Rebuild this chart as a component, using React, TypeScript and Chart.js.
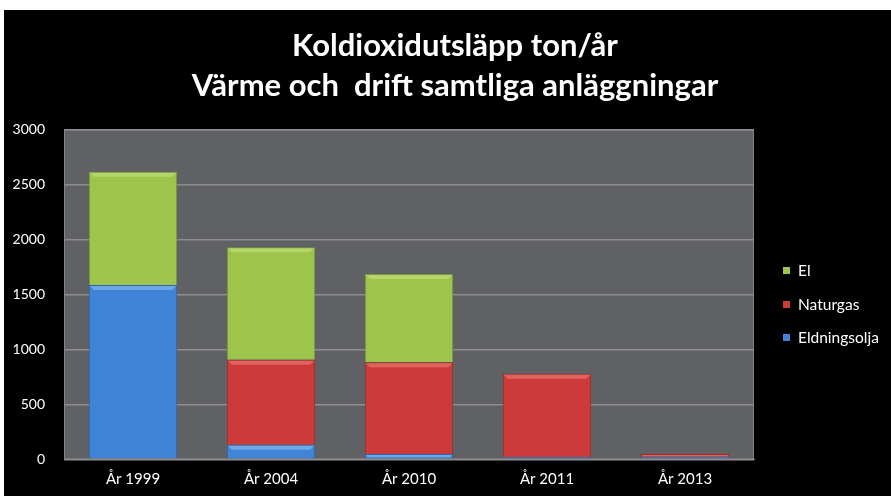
import React, { useEffect, useRef } from "react";
import { Chart, registerables } from "chart.js";

Chart.register(...registerables);

const categories = ["År 1999", "År 2004", "År 2010", "År 2011", "År 2013"];
const eldningsolja = [1585, 132, 48, 22, 24];
const naturgas = [0, 772, 834, 755, 24];
const el = [1030, 1024, 803, 0, 0];
const titleLines = ["Koldioxidutsläpp ton/år", "Värme och  drift samtliga anläggningar"];
const yMax = 3000;
const yStep = 500;

const FONT = "Lato, 'Open Sans', sans-serif";
const highlights = ["#7fb3ee", "#e8706c", "#bcdc72"];

const plotBg = {
  id: "plotBg",
  beforeDraw(chart: any) {
    const { ctx, chartArea } = chart;
    if (!chartArea) return;
    ctx.save();
    ctx.fillStyle = "#606165";
    ctx.fillRect(chartArea.left, chartArea.top, chartArea.right - chartArea.left, chartArea.bottom - chartArea.top);
    ctx.strokeStyle = "#858587";
    ctx.lineWidth = 1;
    ctx.strokeRect(chartArea.left + 0.5, chartArea.top + 0.5, chartArea.right - chartArea.left - 1, chartArea.bottom - chartArea.top - 1);
    ctx.restore();
  },
};

const bevel = {
  id: "bevel",
  afterDatasetsDraw(chart: any) {
    const { ctx } = chart;
    ctx.save();
    chart.data.datasets.forEach((d: any, di: number) => {
      const meta = chart.getDatasetMeta(di);
      meta.data.forEach((bar: any) => {
        const h = bar.base - bar.y;
        if (h < 2) return;
        const left = bar.x - bar.width / 2 + 1;
        const right = bar.x + bar.width / 2 - 1;
        const bh = Math.min(4, h / 2);
        ctx.globalAlpha = 0.75;
        ctx.fillStyle = highlights[di];
        ctx.beginPath();
        ctx.moveTo(left, bar.y + 1);
        ctx.lineTo(right, bar.y + 1);
        ctx.lineTo(right - bh, bar.y + 1 + bh);
        ctx.lineTo(left + bh, bar.y + 1 + bh);
        ctx.closePath();
        ctx.fill();
      });
    });
    ctx.restore();
  },
};

const titleDraw = {
  id: "titleDraw",
  afterDraw(chart: any) {
    const { ctx } = chart;
    ctx.save();
    ctx.font = "bold 31px " + FONT;
    ctx.fillStyle = "#ffffff";
    ctx.textAlign = "center";
    ctx.textBaseline = "alphabetic";
    const cx = 451;
    titleLines.forEach((t, i) => ctx.fillText(t, cx, 46 + i * 40));
    ctx.restore();
  },
};

const sideLegend = {
  id: "sideLegend",
  afterDraw(chart: any) {
    const { ctx } = chart;
    const ds = chart.data.datasets;
    const rows = [260, 294, 327];
    ctx.save();
    ctx.font = "15.5px " + FONT;
    ctx.textBaseline = "middle";
    ctx.textAlign = "left";
    for (let i = 0; i < ds.length; i++) {
      const d = ds[ds.length - 1 - i];
      const y = rows[i];
      ctx.fillStyle = d.backgroundColor;
      ctx.fillRect(779, y - 3, 7, 7);
      ctx.fillStyle = "#ffffff";
      ctx.fillText(d.label, 794, y + 1);
    }
    ctx.restore();
  },
};

export default function App() {
  const ref = useRef<HTMLCanvasElement | null>(null);

  useEffect(() => {
    document.body.style.margin = "0";
    if (!ref.current) return;
    const chart = new Chart(ref.current, {
      type: "bar",
      data: {
        labels: categories,
        datasets: [
          { label: "Eldningsolja", data: eldningsolja, backgroundColor: "#3f84d6", borderColor: "#2f67ad", borderWidth: 1 },
          { label: "Naturgas", data: naturgas, backgroundColor: "#cc3b3a", borderColor: "#9e2c2b", borderWidth: 1 },
          { label: "El", data: el, backgroundColor: "#9dc44b", borderColor: "#78983a", borderWidth: 1 },
        ],
      },
      options: {
        responsive: false,
        animation: false,
        layout: { padding: { left: 0, right: 137, top: 119.3, bottom: 0 } },
        datasets: { bar: { categoryPercentage: 0.8, barPercentage: 0.8 } },
        plugins: {
          legend: { display: false },
          tooltip: { enabled: false },
          title: { display: false },
        },
        scales: {
          x: {
            stacked: true,
            grid: { display: false, drawTicks: false },
            border: { display: true, color: "#8e8e8e", width: 1 },
            ticks: { color: "#ffffff", font: { family: FONT, size: 15 }, padding: 11 },
            afterFit(scale: any) {
              scale.height = 36.7;
            },
          },
          y: {
            stacked: true,
            min: 0,
            max: yMax,
            ticks: {
              stepSize: yStep,
              color: "#ffffff",
              font: { family: FONT, size: 14 },
              padding: 19,
              callback: (v: any) => String(v),
            },
            grid: { color: "#8e8e8e", lineWidth: 1.5, drawTicks: false },
            border: { display: true, color: "#858587" },
            afterFit(scale: any) {
              scale.width = 60;
            },
          },
        },
      },
      plugins: [plotBg, bevel, titleDraw, sideLegend],
    });
    return () => chart.destroy();
  }, []);

  return (
    <div style={{ width: 891, height: 496, background: "#ffffff", paddingTop: 10, paddingLeft: 4, boxSizing: "border-box" }}>
      <div style={{ width: 887, height: 486, background: "#000000" }}>
        <canvas ref={ref} width={887} height={486} style={{ display: "block" }} />
      </div>
    </div>
  );
}
